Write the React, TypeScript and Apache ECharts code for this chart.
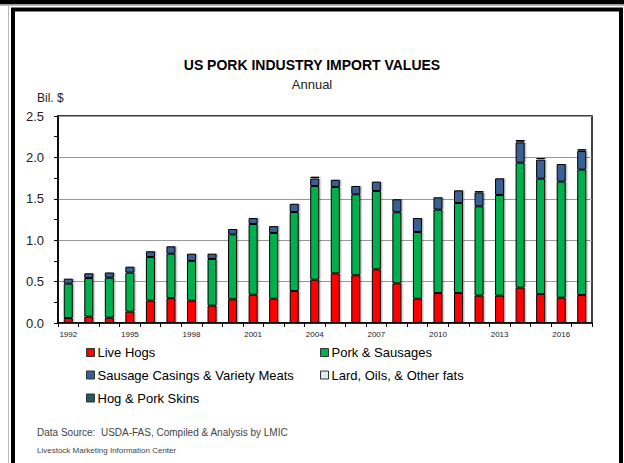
import React, { useEffect, useRef } from "react";
import * as echarts from "echarts";

const years = [
  "1992", "1993", "1994", "1995", "1996", "1997", "1998", "1999", "2000", "2001", "2002", "2003", "2004",
  "2005", "2006", "2007", "2008", "2009", "2010", "2011", "2012", "2013", "2014", "2015", "2016", "2017",
];
const liveHogs = [0.06, 0.077, 0.064, 0.137, 0.27, 0.3, 0.27, 0.21, 0.286, 0.342, 0.294, 0.386, 0.523, 0.6, 0.576, 0.648, 0.479, 0.294, 0.362, 0.362, 0.33, 0.33, 0.427, 0.35, 0.306, 0.338];
const porkSausages = [0.415, 0.466, 0.483, 0.471, 0.527, 0.537, 0.48, 0.563, 0.784, 0.854, 0.793, 0.954, 1.132, 1.043, 0.978, 0.946, 0.858, 0.805, 1.007, 1.087, 1.079, 1.216, 1.509, 1.393, 1.401, 1.514];
const casings = [0.06, 0.057, 0.063, 0.072, 0.069, 0.089, 0.087, 0.064, 0.065, 0.072, 0.083, 0.1, 0.09, 0.087, 0.101, 0.113, 0.157, 0.169, 0.149, 0.153, 0.169, 0.201, 0.246, 0.23, 0.213, 0.225];
const lard = [0.004, 0.005, 0.005, 0.004, 0.004, 0.005, 0.005, 0.005, 0.005, 0.005, 0.006, 0.005, 0.006, 0.005, 0.004, 0.005, 0.005, 0.004, 0.005, 0.005, 0.006, 0.005, 0.008, 0.006, 0.005, 0.006];
const skins = [0.006, 0.01, 0.008, 0.008, 0.008, 0.01, 0.008, 0.011, 0.01, 0.011, 0.012, 0.012, 0.016, 0.008, 0.008, 0.011, 0.011, 0.008, 0.011, 0.011, 0.014, 0.011, 0.02, 0.014, 0.011, 0.014];
const yTicks = [0, 0.5, 1.0, 1.5, 2.0, 2.5];

const seriesNames = [
  "Live Hogs",
  "Pork & Sausages",
  "Sausage Casings & Variety Meats",
  "Lard, Oils, & Other fats",
  "Hog & Pork Skins",
];
const seriesData = [liveHogs, porkSausages, casings, lard, skins];
const seriesColors = ["#FF0000", "#00B050", "#376092", "#DAEEF3", "#215967"];

const SANS = "'Liberation Sans', Arial, sans-serif";

export default function App() {
  const ref = useRef<HTMLDivElement>(null);
  useEffect(() => {
    if (!ref.current) return;
    const chart = echarts.init(ref.current, undefined, { renderer: "svg" });
    const legendPos = [
      { left: 86, top: 344.5 },
      { left: 320, top: 344.5 },
      { left: 86, top: 367 },
      { left: 320, top: 367 },
      { left: 86, top: 390 },
    ];
    chart.setOption({
      animation: false,
      backgroundColor: "#ffffff",
      title: {
        text: "US PORK INDUSTRY IMPORT VALUES",
        subtext: "Annual",
        left: "center",
        top: 57,
        padding: 0,
        itemGap: 4,
        textStyle: { fontFamily: SANS, fontSize: 14, fontWeight: "bold", color: "#000", lineHeight: 16 },
        subtextStyle: { fontFamily: SANS, fontSize: 13, color: "#222", lineHeight: 15 },
      },
      legend: seriesNames.map((n, i) => ({
        data: [n],
        left: legendPos[i].left,
        top: legendPos[i].top,
        padding: 0,
        icon: "rect",
        itemWidth: 8,
        itemHeight: 8,
        itemGap: 0,
        selectedMode: false,
        itemStyle: { borderColor: "#333", borderWidth: 1 },
        textStyle: { fontFamily: SANS, fontSize: 13, color: "#000", lineHeight: 16, padding: [0, 0, 0, -2] },
      })),
      grid: {
        left: 58,
        right: 32,
        top: 116,
        bottom: 140,
        show: true,
        borderColor: "#000",
        borderWidth: 1.5,
        backgroundColor: "transparent",
        containLabel: false,
      },
      xAxis: {
        type: "category",
        data: years,
        axisLine: { lineStyle: { color: "#000", width: 1.5 } },
        axisTick: { show: true, interval: 0, alignWithLabel: false, length: 4, lineStyle: { color: "#000" } },
        axisLabel: { interval: 2, fontFamily: SANS, fontSize: 8, color: "#222", margin: 7 },
        splitLine: { show: false },
      },
      yAxis: {
        type: "value",
        min: 0,
        max: 2.5,
        interval: 0.5,
        axisLine: { show: true, lineStyle: { color: "#000", width: 1.5 } },
        axisTick: { show: true, length: 4, lineStyle: { color: "#000" } },
        minorTick: { show: true, splitNumber: 2, length: 4, lineStyle: { color: "#000" } },
        axisLabel: {
          fontFamily: SANS,
          fontSize: 13,
          color: "#222",
          margin: 14,
          formatter: (v: number) => (yTicks.includes(v) ? v.toFixed(1) : ""),
        },
        splitLine: { show: true, lineStyle: { color: "#999", width: 1 } },
      },
      series: seriesNames.map((n, i) => ({
        name: n,
        type: "bar",
        stack: "total",
        data: seriesData[i],
        barWidth: "44%",
        itemStyle: {
          color: seriesColors[i],
          borderColor: "#000",
          borderWidth: 1,
          shadowColor: "rgba(0,0,0,0.25)",
          shadowOffsetX: 1.5,
          shadowOffsetY: 0,
          shadowBlur: 0,
        },
      })),
      graphic: [
        { type: "rect", shape: { x: 0, y: 0, width: 624, height: 4.5 }, style: { fill: "#000" }, silent: true },
        { type: "rect", shape: { x: 0, y: 4.5, width: 624, height: 1.5 }, style: { fill: "#b8b8b8" }, silent: true },
        { type: "rect", shape: { x: 8, y: 6, width: 1, height: 457 }, style: { fill: "#b8b8b8" }, silent: true },
        {
          type: "rect",
          shape: { x: 13, y: 9.5, width: 608, height: 500 },
          style: { fill: "none", stroke: "#000", lineWidth: 4 },
          silent: true,
        },
        {
          type: "text",
          x: 37,
          y: 98,
          style: { text: "Bil. $", fontFamily: SANS, fontSize: 12, fill: "#222", verticalAlign: "middle" },
          silent: true,
        },
        {
          type: "text",
          x: 37,
          y: 432,
          style: {
            text: "Data Source:  USDA-FAS, Compiled & Analysis by LMIC",
            fontFamily: SANS,
            fontSize: 10,
            fill: "#444",
            verticalAlign: "middle",
          },
          silent: true,
        },
        {
          type: "text",
          x: 37,
          y: 450,
          style: {
            text: "Livestock Marketing Information Center",
            fontFamily: SANS,
            fontSize: 8,
            fill: "#444",
            verticalAlign: "middle",
          },
          silent: true,
        },
      ],
    });
    return () => chart.dispose();
  }, []);
  return (
    <div
      ref={ref}
      style={{ position: "absolute", left: 0, top: 0, width: 624, height: 463, background: "#fff" }}
    />
  );
}
